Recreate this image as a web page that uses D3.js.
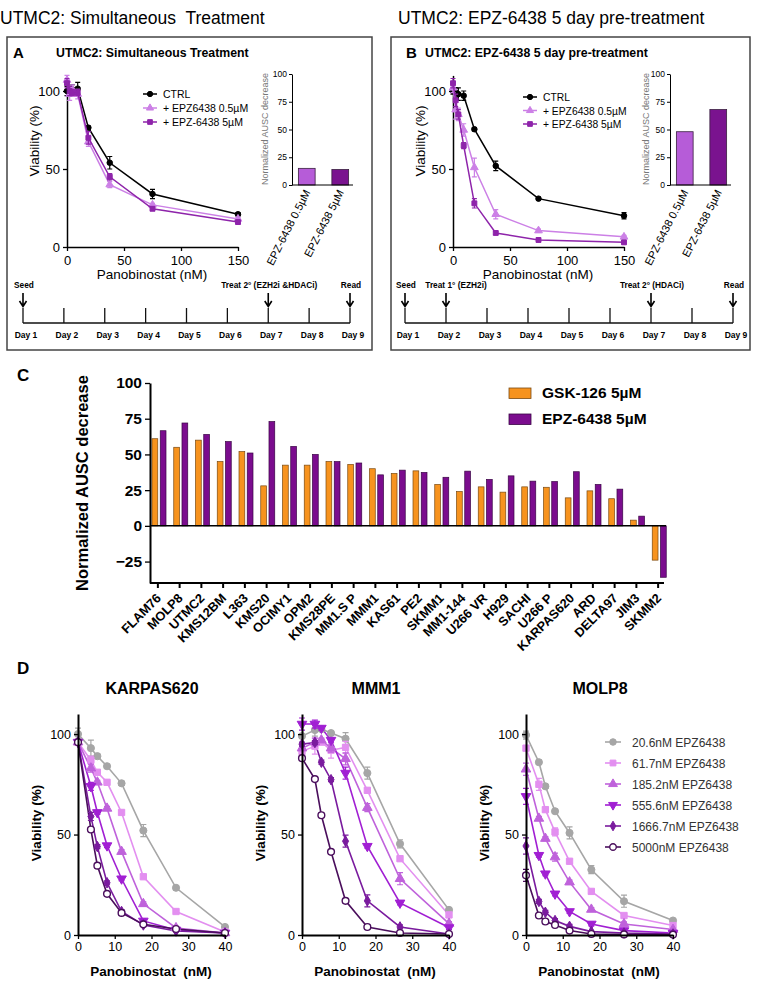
<!DOCTYPE html>
<html><head><meta charset="utf-8">
<script src="https://cdn.jsdelivr.net/npm/d3@7"></script>
<style>body{margin:0;background:#fff} svg{display:block;font-family:"Liberation Sans",Arial,sans-serif}</style>
</head><body><svg id="fig" width="757" height="988"></svg>
<script>
// ---------------- DATA ----------------
const figTitles = ["UTMC2: Simultaneous\u00a0 Treatment", "UTMC2: EPZ-6438 5 day pre-treatment"];
const panelTitles = ["UTMC2: Simultaneous Treatment", "UTMC2: EPZ-6438 5 day pre-treatment"];
const abSeries = ["CTRL", "+ EPZ6438 0.5\u00b5M", "+ EPZ-6438 5\u00b5M"];
const abConc = [0, 2.34, 4.69, 9.38, 18.75, 37.5, 75, 150];
const aCtrl = [100, 100, 101, 101.5, 76.5, 54, 34, 21];
const aCtrlErr = [3, 3, 3, 4, 1, 4, 3, 1];
const aLow = [107, 98, 101, 98, 67.5, 40, 27, 18];
const aLowErr = [3, 4, 3, 3, 3, 2, 1, 1];
const aHigh = [105, 100, 99, 99, 70, 45, 24.5, 16];
const aHighErr = [3, 3, 2, 2, 4, 2, 1, 1];
const bCtrl = [100, 99, 98, 97, 75.5, 52, 31, 20];
const bCtrlErr = [2, 3, 4, 3, 1, 3, 1, 2];
const bLow = [102, 88, 85, 75, 51, 21, 10.5, 6.5];
const bLowErr = [3, 6, 4, 4, 6, 3, 1, 1];
const bHigh = [105, 94, 85, 65, 28, 9, 4.5, 3];
const bHighErr = [3, 4, 3, 2, 3, 1, 1, 1];
const insetLabels = ["EPZ-6438 0.5\u00b5M", "EPZ-6438 5\u00b5M"];
const aInset = [15, 14];
const bInset = [48, 68];
const days = ["Day 1", "Day 2", "Day 3", "Day 4", "Day 5", "Day 6", "Day 7", "Day 8", "Day 9"];
const aEvents = [["Seed", 0], ["Treat 2\u00b0 (EZH2i &HDACi)", 6], ["Read", 8]];
const bEvents = [["Seed", 0], ["Treat 1\u00b0 (EZH2i)", 1], ["Treat 2\u00b0 (HDACi)", 6], ["Read", 8]];

const cCats = ["FLAM76","MOLP8","UTMC2","KMS12BM","L363","KMS20","OCIMY1","OPM2","KMS28PE","MM1.S P","MMM1","KAS61","PE2","SKMM1","MM1-144","U266 VR","H929","SACHI","U266 P","KARPAS620","ARD","DELTA97","JIM3","SKMM2"];
const cSeries = ["GSK-126 5\u00b5M", "EPZ-6438 5\u00b5M"];
const cGSK = [61, 55, 60, 45, 52, 28, 42.5, 42.5, 45, 43, 40, 36.7, 38.5, 29, 24, 27.3, 23.6, 27.3, 27, 19.6, 24.5, 19, 4, -24];
const cEPZ = [66.6, 72, 64, 59, 51, 73, 55.6, 50, 45, 44, 35.7, 39, 37.4, 34, 38.3, 32.5, 35, 31.3, 31, 37.9, 29, 25.7, 6.8, -36];
const cTicks = [-25, 0, 25, 50, 75, 100];

const dSeries = ["20.6nM EPZ6438", "61.7nM EPZ6438", "185.2nM EPZ6438", "555.6nM EPZ6438", "1666.7nM EPZ6438", "5000nM EPZ6438"];
const dConc = [0, 3.51, 5.27, 7.9, 11.85, 17.78, 26.67, 40];
const dTitles = ["KARPAS620", "MMM1", "MOLP8"];
const karpas620 = [
  [100, 93, 89, 84, 75.5, 52, 23.5, 4],
  [96, 87, 81, 76, 61, 29, 11.7, 1.5],
  [96, 83, 76, 63, 41.5, 15.5, 3.5, 1],
  [96, 74, 61, 44.5, 28, 7, 2.5, 1],
  [96, 59, 44, 26, 11.7, 5, 2, 1],
  [96, 52.5, 34.5, 20.5, 11, 5.3, 3, 1]];
const karpas620Err = [
  [3, 4, 1, 1, 1, 3, 1, 1],
  [1, 2, 1, 1, 1, 1, 1, 0],
  [1, 2, 1, 1, 1, 1, 0, 0],
  [1, 2, 1, 1, 1, 1, 0, 0],
  [1, 2, 1, 1, 1, 0, 0, 0],
  [1, 1, 1, 1, 1, 0, 0, 0]];
const mmm1 = [
  [99, 102, 102.5, 100.5, 97.7, 80.6, 45.4, 12.5],
  [91.4, 94, 96, 92, 93.4, 72, 38, 10],
  [93, 96, 97, 93, 87.7, 63.4, 28, 5.7],
  [105, 105, 103, 97, 80.6, 44.2, 16, 3.7],
  [95, 95.8, 86, 77.3, 46.7, 17, 4, 0.5],
  [88, 77.6, 59.6, 41.4, 17, 4, 1, 0.5]];
const mmm1Err = [
  [1, 3, 1, 1, 3, 3, 2, 1],
  [2, 4, 1, 4, 3, 1, 1, 1],
  [1, 2, 1, 2, 3, 2, 3, 1],
  [3, 2, 1, 1, 3, 1, 1, 1],
  [1, 1, 1, 1, 3, 3, 1, 0],
  [1, 1, 1, 1, 1, 1, 0, 0]];
const molp8 = [
  [99.5, 86, 74, 61.6, 50.8, 32.5, 16.8, 7.2],
  [93, 75, 62.4, 51.3, 36.7, 21.7, 9.7, 4.7],
  [82.5, 58, 48, 38.8, 26.3, 12.7, 5.5, 2.7],
  [69, 39.7, 30.5, 20.5, 11.7, 5.5, 2.2, 1],
  [44.3, 16.7, 11.3, 7.2, 4.3, 1.7, 1, 0.5],
  [29.7, 9.7, 6.7, 5, 2.2, 0.5, 0.3, 0.2]];
const molp8Err = [
  [2, 1, 1, 1, 3, 2, 3, 1],
  [1, 3, 1, 2, 1, 1, 1, 1],
  [3, 1, 1, 2, 1, 1, 1, 0],
  [4, 1, 1, 1, 1, 1, 0, 0],
  [4, 1, 1, 1, 1, 0, 0, 0],
  [3, 1, 1, 1, 1, 0, 0, 0]];

// ---------------- STYLE ----------------
const abColors = ["#000000", "#CC80E6", "#8E24AA"];
const abShapes = ["circle", "triangle", "square"];
const insetColors = ["#B65CD8", "#7A138F"];
const cColors = ["#F7931E", "#7B0C8E"];
const cStroke = ["#7a4a12", "#3a0545"];
const dColors = ["#A6A6A6", "#E38FF0", "#BF62DB", "#A11FD3", "#7A1B9E", "#4A0E5C"];
const dShapes = ["circle", "square", "triangle", "tridown", "diamond", "open"];

const svg = d3.select("#fig");

function txt(g, x, y, s, o = {}) {
  const t = g.append("text").attr("x", x).attr("y", y).text(s)
    .attr("font-size", o.size || 12).attr("font-weight", o.weight || "normal")
    .attr("text-anchor", o.anchor || "start").attr("fill", o.fill || "#000");
  if (o.rotate != null) t.attr("transform", `rotate(${o.rotate},${x},${y})`);
  if (o.style) t.attr("font-style", o.style);
  return t;
}

function marker(g, x, y, shape, color, size) {
  let type = d3.symbolCircle, rot = 0, fill = color, stroke = color, sw = 1;
  if (shape === "square") type = d3.symbolSquare;
  if (shape === "triangle") type = d3.symbolTriangle;
  if (shape === "tridown") { type = d3.symbolTriangle; rot = 180; }
  if (shape === "diamond") { type = d3.symbolDiamond; size *= 0.8; }
  if (shape === "open") { fill = "#fff"; sw = 1.4; }
  g.append("path").attr("d", d3.symbol(type, size)())
    .attr("transform", `translate(${x},${y}) rotate(${rot})`)
    .attr("fill", fill).attr("stroke", stroke).attr("stroke-width", sw);
}

function errBar(g, cx, y0, y1, col, cap, w) {
  g.append("path").attr("d", `M${cx},${y0}V${y1}M${cx - cap},${y0}h${2 * cap}M${cx - cap},${y1}h${2 * cap}`)
    .attr("stroke", col).attr("stroke-width", w).attr("fill", "none");
}

function styleAxis(a, size, weight) {
  a.selectAll("path").attr("stroke", "#000").attr("stroke-width", 1.5);
  a.selectAll("line").attr("stroke", "#000").attr("stroke-width", 1.3);
  a.selectAll("text").attr("font-size", size).attr("font-weight", weight || "normal")
    .attr("font-family", '"Liberation Sans", Arial, sans-serif').attr("fill", "#000");
}

// ---------------- TOP PANELS (A, B) ----------------
function drawTop(cfg) {
  const g = svg.append("g");
  txt(g, cfg.titleX, 24, cfg.figTitle, { size: 17.5 });
  g.append("rect").attr("x", cfg.box[0]).attr("y", 37).attr("width", cfg.box[1] - cfg.box[0]).attr("height", 313)
    .attr("fill", "none").attr("stroke", "#444").attr("stroke-width", 1.5);
  txt(g, cfg.letterX, 58, cfg.letter, { size: 15, weight: "bold" });
  txt(g, cfg.subX, 57, cfg.subTitle, { size: 12.3, weight: "bold" });

  const x = d3.scaleLinear().domain([0, 150]).range([cfg.x0, cfg.x0 + 171]);
  const y = d3.scaleLinear().domain([0, cfg.ytop]).range([247, 247 - 1.56 * cfg.ytop]);
  const ax = g.append("g").attr("transform", "translate(0,247)")
    .call(d3.axisBottom(x).tickValues([0, 50, 100, 150]).tickSize(4).tickSizeOuter(0));
  styleAxis(ax, 13);
  ax.selectAll("text").attr("dy", "0.85em");
  const ay = g.append("g").attr("transform", `translate(${cfg.x0},0)`)
    .call(d3.axisLeft(y).tickValues([0, 50, 100]).tickSize(4).tickSizeOuter(0));
  styleAxis(ay, 13);
  txt(g, cfg.x0 + 85, 279, "Panobinostat (nM)", { size: 13.5, anchor: "middle" });
  txt(g, cfg.x0 - 28, 141, "Viability (%)", { size: 13.5, anchor: "middle", rotate: -90 });

  cfg.series.forEach((s, k) => {
    const col = abColors[k];
    g.append("path").datum(s.v).attr("fill", "none").attr("stroke", col).attr("stroke-width", 1.5)
      .attr("d", d3.line().x((d, i) => x(abConc[i])).y(d => y(d)));
    s.v.forEach((v, i) => {
      const cx = x(abConc[i]), e = s.e[i];
      errBar(g, cx, y(v - e), y(v + e), col, 2.5, 1.2);
      marker(g, cx, y(v), abShapes[k], col, k === 1 ? 26 : 24);
    });
    const ly = cfg.legY + k * cfg.legStep;
    g.append("line").attr("x1", cfg.legX - 7).attr("x2", cfg.legX + 7).attr("y1", ly).attr("y2", ly)
      .attr("stroke", col).attr("stroke-width", 1.5);
    marker(g, cfg.legX, ly, abShapes[k], col, 22);
    txt(g, cfg.legX + 13, ly + 4, abSeries[k], { size: cfg.legSize });
  });

  // inset bars
  const xi = d3.scaleBand().domain(insetLabels).range([cfg.ix - 2, cfg.ix + 65]).paddingInner(0.5).paddingOuter(0.25);
  const yi = d3.scaleLinear().domain([0, 100]).range([185, 74]);
  g.selectAll(null).data(cfg.inset).enter().append("rect")
    .attr("x", (d, i) => xi(insetLabels[i])).attr("width", xi.bandwidth())
    .attr("y", d => yi(d)).attr("height", d => yi(0) - yi(d))
    .attr("fill", (d, i) => insetColors[i]).attr("stroke", "#3a2040").attr("stroke-width", 0.8);
  const aiy = g.append("g").attr("transform", `translate(${cfg.ix},0)`)
    .call(d3.axisLeft(yi).tickValues([0, 25, 50, 75, 100]).tickSize(3).tickPadding(2).tickSizeOuter(0));
  styleAxis(aiy, 8.5);
  aiy.selectAll("path,line").attr("stroke-width", 1);
  g.append("line").attr("x1", cfg.ix).attr("x2", cfg.ix + 61).attr("y1", 185).attr("y2", 185)
    .attr("stroke", "#000").attr("stroke-width", 1);
  txt(g, cfg.ix - cfg.ilabOff, 129, "Normalized AUSC decrease", { size: 9, anchor: "middle", rotate: -90, fill: "#777" });
  insetLabels.forEach((l, i) => {
    const cx = xi(l) + xi.bandwidth() / 2 + 4;
    txt(g, cx, 192, l, { size: 11, anchor: "end", rotate: -63 });
  });

  // timeline
  const xt = d3.scalePoint().domain(days).range(cfg.tl);
  g.append("line").attr("x1", cfg.tl[0]).attr("x2", cfg.tl[1]).attr("y1", 323).attr("y2", 323)
    .attr("stroke", "#111").attr("stroke-width", 1.5);
  days.forEach(d => {
    g.append("line").attr("x1", xt(d)).attr("x2", xt(d)).attr("y1", 308).attr("y2", 323)
      .attr("stroke", "#111").attr("stroke-width", 1.3);
    txt(g, xt(d) + 3, 338, d, { size: 8.5, weight: "bold", anchor: "middle" });
  });
  cfg.events.forEach(([lab, di]) => {
    const ex = xt(days[di]);
    g.append("path").attr("d", `M${ex},293V306M${ex - 3.5},301L${ex},306.5L${ex + 3.5},301`)
      .attr("stroke", "#000").attr("stroke-width", 1.6).attr("fill", "none");
    const dx = (lab.startsWith("Treat 1")) ? 10 : 1;
    txt(g, ex + dx, 288, lab, { size: 8.3, weight: "bold", anchor: "middle" });
  });
}

drawTop({ figTitle: figTitles[0], titleX: 0, box: [7, 372], letter: "A", letterX: 13, subX: 56, subTitle: panelTitles[0],
  x0: 67, ytop: 107, legX: 150, legY: 94, legStep: 14, legSize: 10.5,
  series: [{ v: aCtrl, e: aCtrlErr }, { v: aLow, e: aLowErr }, { v: aHigh, e: aHighErr }],
  ix: 292, ilabOff: 24, inset: aInset, tl: [23, 350], events: aEvents });
drawTop({ figTitle: figTitles[1], titleX: 398, box: [391, 750], letter: "B", letterX: 406, subX: 425, subTitle: panelTitles[1],
  x0: 453, ytop: 110, legX: 530, legY: 97, legStep: 13.5, legSize: 10.3,
  series: [{ v: bCtrl, e: bCtrlErr }, { v: bLow, e: bLowErr }, { v: bHigh, e: bHighErr }],
  ix: 670, ilabOff: 21, inset: bInset, tl: [405, 733], events: bEvents });

// ---------------- PANEL C ----------------
(function () {
  const g = svg.append("g");
  txt(g, 17, 381, "C", { size: 17, weight: "bold" });
  const x = d3.scaleBand().domain(cCats).range([147, 669]);
  const x1 = d3.scaleBand().domain(cSeries).range([5, 19]).paddingInner(0.3);
  const y = d3.scaleLinear().domain([-40, 100]).range([583, 383]);
  [cGSK, cEPZ].forEach((vals, k) => {
    g.selectAll(null).data(vals).enter().append("rect")
      .attr("x", (d, i) => x(cCats[i]) + x1(cSeries[k])).attr("width", x1.bandwidth())
      .attr("y", d => y(Math.max(0, d))).attr("height", d => Math.abs(y(d) - y(0)))
      .attr("fill", cColors[k]).attr("stroke", cStroke[k]).attr("stroke-width", 0.7);
  });
  g.append("line").attr("x1", 150).attr("x2", 666).attr("y1", y(0)).attr("y2", y(0)).attr("stroke", "#000").attr("stroke-width", 1.5);
  const ay = g.append("g").attr("transform", "translate(150,0)")
    .call(d3.axisLeft(y).tickValues(cTicks).tickSize(5).tickSizeOuter(0));
  styleAxis(ay, 15.5, "bold");
  ay.selectAll("path").attr("stroke-width", 2);
  const ax = g.append("g").attr("transform", "translate(0,583)")
    .call(d3.axisBottom(x).tickSize(5).tickSizeOuter(0));
  styleAxis(ax, 12.8, "bold");
  ax.select(".domain").remove();
  ax.selectAll("line").attr("stroke-width", 2);
  g.append("line").attr("x1", 150).attr("x2", 664).attr("y1", 583).attr("y2", 583).attr("stroke", "#000").attr("stroke-width", 2);
  ax.selectAll("text").attr("text-anchor", "end").attr("y", 0).attr("dy", 0)
    .attr("transform", "translate(4,16) rotate(-45)");
  txt(g, 88, 483, "Normalized AUSC decrease", { size: 16.5, weight: "bold", anchor: "middle", rotate: -90 });
  cSeries.forEach((s, k) => {
    const ly = 388 + k * 26;
    g.append("rect").attr("x", 509).attr("y", ly).attr("width", 22).attr("height", 10.5)
      .attr("fill", cColors[k]).attr("stroke", cStroke[k]).attr("stroke-width", 0.8);
    txt(g, 542, ly + 10, s, { size: 15.5, weight: "bold" });
  });
})();

// ---------------- PANEL D ----------------
txt(svg, 17, 674, "D", { size: 17, weight: "bold" });
function drawDose(data, errs, title, x0, showLegend) {
  const g = svg.append("g");
  const x = d3.scaleLinear().domain([0, 40]).range([x0, x0 + 147]);
  const y = d3.scaleLinear().domain([0, 110]).range([935, 714]);
  txt(g, x0 + 74, 694, title, { size: 16, weight: "bold", anchor: "middle" });
  data.forEach((vals, k) => {
    const col = dColors[k];
    g.append("path").datum(vals).attr("fill", "none").attr("stroke", col).attr("stroke-width", 1.6)
      .attr("d", d3.line().x((d, i) => x(dConc[i])).y(d => y(d)));
  });
  data.forEach((vals, k) => {
    vals.forEach((v, i) => {
      const e = errs[k][i];
      if (e > 0) errBar(g, x(dConc[i]), y(v - e), y(v + e), dColors[k], 3, 1.2);
      marker(g, x(dConc[i]), y(v), dShapes[k], dColors[k], dShapes[k] === "open" ? 36 : 40);
    });
  });
  const ax = g.append("g").attr("transform", "translate(0,935)")
    .call(d3.axisBottom(x).tickValues([0, 10, 20, 30, 40]).tickSize(4).tickSizeOuter(0));
  styleAxis(ax, 12.5);
  ax.selectAll("path").attr("stroke-width", 2);
  const ay = g.append("g").attr("transform", `translate(${x0},0)`)
    .call(d3.axisLeft(y).tickValues([0, 50, 100]).tickSize(4).tickSizeOuter(0));
  styleAxis(ay, 12.5);
  ay.selectAll("path").attr("stroke-width", 2);
  txt(g, x0 + 73, 976, "Panobinostat\u00a0 (nM)", { size: 13.5, weight: "bold", anchor: "middle" });
  txt(g, x0 - 37, 823, "Viability (%)", { size: 13.5, weight: "bold", anchor: "middle", rotate: -90 });
  if (showLegend) {
    dSeries.forEach((s, k) => {
      const ly = 742 + k * 21;
      g.append("line").attr("x1", 605).attr("x2", 621).attr("y1", ly).attr("y2", ly).attr("stroke", dColors[k]).attr("stroke-width", 1.6);
      marker(g, 613, ly, dShapes[k], dColors[k], 34);
      txt(g, 632, ly + 4.5, s, { size: 12, fill: "#333" });
    });
  }
}
drawDose(karpas620, karpas620Err, dTitles[0], 78, false);
drawDose(mmm1, mmm1Err, dTitles[1], 302, false);
drawDose(molp8, molp8Err, dTitles[2], 526, true);
</script></body></html>
